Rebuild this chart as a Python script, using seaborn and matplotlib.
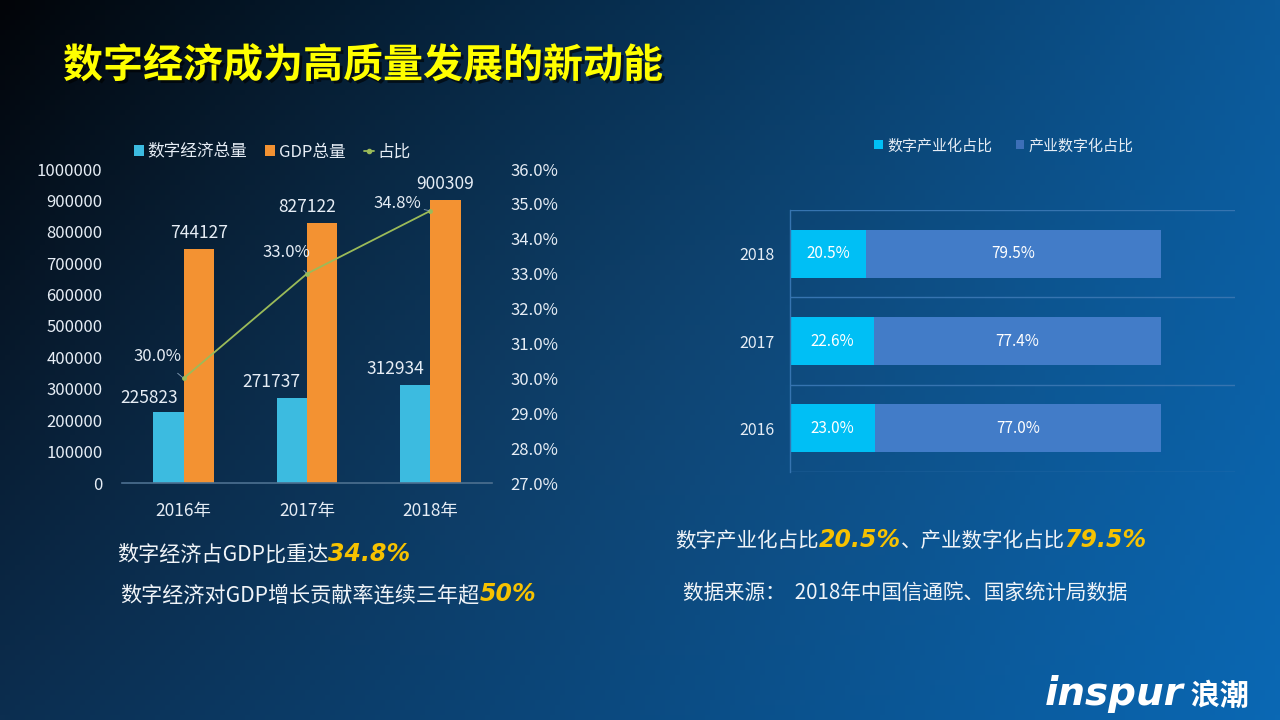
import numpy as np
import pandas as pd
import seaborn as sns
import matplotlib.pyplot as plt
import matplotlib.patheffects as pe
from matplotlib.lines import Line2D
from matplotlib.patches import Patch
from matplotlib.ticker import FuncFormatter, MultipleLocator

# ---- data ----
years = ['2016年', '2017年', '2018年']
digital_total = [225823, 271737, 312934]
gdp_total = [744127, 827122, 900309]
digital_share = [30.0, 33.0, 34.8]

ratio_years = ['2018', '2017', '2016']
industrialization = [20.5, 22.6, 23.0]
digitalization = [79.5, 77.4, 77.0]

sns.set_theme(style='white')
plt.rcParams['font.family'] = ['Noto Sans CJK SC', 'DejaVu Sans']
plt.rcParams['axes.unicode_minus'] = False

TXT = '#e6edf5'
CYAN = '#3cbbe0'
ORANGE = '#f39232'
GREEN = '#9bbb59'
CYAN2 = '#00bff5'
BLUE2 = '#427cc8'
GRID = '#3674b0'
YELLOW_NUM = '#f7c200'

fig = plt.figure(figsize=(12.8, 7.2), dpi=100)

# background gradient
bg = fig.add_axes([0, 0, 1, 1])
bg.set_axis_off()
tl = np.array([2, 4, 8]) / 255
tr = np.array([12, 90, 154]) / 255
bl = np.array([12, 46, 80]) / 255
br = np.array([10, 104, 180]) / 255
u = np.linspace(0, 1, 256)[None, :, None]
v = np.linspace(0, 1, 144)[:, None, None]
grad = (1 - v) * ((1 - u) * tl + u * tr) + v * ((1 - u) * bl + u * br)
grad = np.clip(grad + 0.02 * np.sin(np.pi * u) * np.sin(np.pi * v), 0, 1)
bg.imshow(grad, aspect='auto', extent=[0, 1, 0, 1], origin='upper')
bg.set_xlim(0, 1)
bg.set_ylim(0, 1)

# title
fig.text(63 / 1280, 1 - 66 / 720, '数字经济成为高质量发展的新动能', color='#ffff00',
         fontsize=28.8, fontweight='bold', va='center', ha='left',
         path_effects=[pe.SimplePatchShadow(offset=(2, -2), shadow_rgbFace='black', alpha=0.6), pe.Normal()])

# ---- left chart ----
ax1 = fig.add_axes([122 / 1280, 1 - 483 / 720, 370 / 1280, 314 / 720])
ax1.set_facecolor('none')
df = pd.DataFrame({
    '年份': years * 2,
    '系列': ['数字经济总量'] * 3 + ['GDP总量'] * 3,
    '值': digital_total + gdp_total,
})
sns.barplot(data=df, x='年份', y='值', hue='系列', palette=[CYAN, ORANGE], width=0.49,
            saturation=1, legend=False, linewidth=0, edgecolor='none', ax=ax1)
ax1.set_ylim(0, 1000000)
ax1.set_xlim(-0.5, 2.5)
ax1.yaxis.set_major_locator(MultipleLocator(100000))
ax1.yaxis.set_major_formatter(FuncFormatter(lambda v, p: f'{v:.0f}'))
ax1.set_xlabel('')
ax1.set_ylabel('')
for s in ['top', 'left', 'right']:
    ax1.spines[s].set_visible(False)
ax1.spines['bottom'].set_color('#4d7090')
ax1.spines['bottom'].set_linewidth(1.2)
ax1.tick_params(axis='y', length=0, pad=14, labelsize=12, labelcolor=TXT)
ax1.tick_params(axis='x', which='major', length=0, pad=14, labelsize=12.5, labelcolor=TXT)
ax1.set_xticks([-0.5, 0.5, 1.5, 2.5], minor=True)
ax1.tick_params(axis='x', which='minor', length=6, width=1.2, color='#4d7090', direction='out')
ax1.grid(False)

# bar value labels
cyan_nudge = [(-14, 10), (-15, 11), (-14, 11)]
orange_nudge = [(0, 12), (-11, 12), (0, 12)]
for cont, nudges in zip(ax1.containers, [cyan_nudge, orange_nudge]):
    for bar, (dx, dy) in zip(cont, nudges):
        xc = bar.get_x() + bar.get_width() / 2
        h = bar.get_height()
        ax1.annotate(f'{h:.0f}', (xc, h), xytext=(dx, dy), textcoords='offset points',
                     ha='center', va='center', color=TXT, fontsize=12.5)

ax2 = ax1.twinx()
ax2.set_facecolor('none')
sns.lineplot(x=years, y=digital_share, ax=ax2, color=GREEN, lw=1.3, marker='o',
             markersize=3.5, markeredgewidth=0, sort=False)
ax2.set_ylim(27, 36)
ax2.yaxis.set_major_locator(MultipleLocator(1))
ax2.yaxis.set_major_formatter(FuncFormatter(lambda v, p: f'{v:.1f}%'))
ax2.set_ylabel('')
for s in ax2.spines.values():
    s.set_visible(False)
ax2.tick_params(axis='y', length=0, pad=13, labelsize=12, labelcolor=TXT)
ax2.grid(False)
pct_nudge = [(-19, 16), (-15, 15), (-24, 5)]
for i, (val, (dx, dy)) in enumerate(zip(digital_share, pct_nudge)):
    ax2.annotate(f'{val:.1f}%', (i, val), xytext=(dx, dy), textcoords='offset points',
                 ha='center', va='center', color=TXT, fontsize=12,
                 arrowprops=dict(arrowstyle='-', color='#8aa4bc', lw=0.6, shrinkA=6, shrinkB=1))

left_handles = [
    Patch(facecolor=CYAN, edgecolor='none', label='数字经济总量'),
    Patch(facecolor=ORANGE, edgecolor='none', label='GDP总量'),
    Line2D([0], [0], color=GREEN, lw=1.3, marker='o', markersize=3, label='占比'),
]
fig.legend(handles=left_handles, loc='center', bbox_to_anchor=(272 / 1280, 1 - 152 / 720),
           ncol=3, frameon=False, fontsize=12, handlelength=0.6, handleheight=0.6,
           handletextpad=0.2, columnspacing=1.1, labelcolor=TXT)

# ---- right chart ----
ax3 = fig.add_axes([790 / 1280, 1 - 472 / 720, 445 / 1280, 262 / 720])
ax3.set_facecolor('none')
totals = [a + b for a, b in zip(industrialization, digitalization)]
sns.barplot(x=totals, y=ratio_years, orient='y', color=BLUE2, width=0.55, saturation=1,
            linewidth=0, edgecolor='none', ax=ax3)
sns.barplot(x=industrialization, y=ratio_years, orient='y', color=CYAN2, width=0.55, saturation=1,
            linewidth=0, edgecolor='none', ax=ax3)
ax3.set_xlim(0, 120)
ax3.set_ylim(2.5, -0.5)
ax3.set_xticks([])
ax3.set_xlabel('')
ax3.set_ylabel('')
ax3.grid(False)
for s in ['top', 'right', 'bottom']:
    ax3.spines[s].set_visible(False)
ax3.spines['left'].set_color(GRID)
ax3.spines['left'].set_linewidth(1)
for yb in [-0.5, 0.5, 1.5, 2.5]:
    ax3.axhline(yb, color=GRID, lw=1, zorder=0)
ax3.tick_params(axis='y', length=0, pad=11, labelsize=11.5, labelcolor=TXT)
for i, (a, b) in enumerate(zip(industrialization, digitalization)):
    ax3.text(a / 2, i, f'{a:.1f}%', ha='center', va='center', color='white', fontsize=11)
    ax3.text(a + b / 2, i, f'{b:.1f}%', ha='center', va='center', color='white', fontsize=11)

right_handles = [
    Patch(facecolor=CYAN2, edgecolor='none', label='数字产业化占比'),
    Patch(facecolor='#3d6fb8', edgecolor='none', label='产业数字化占比'),
]
fig.legend(handles=right_handles, loc='center', bbox_to_anchor=(1004 / 1280, 1 - 146 / 720),
           ncol=2, frameon=False, fontsize=10.8, handlelength=0.55, handleheight=0.55,
           handletextpad=0.3, columnspacing=1.6, labelcolor=TXT)

# ---- text runs ----
renderer = fig.canvas.get_renderer()


def text_runs(x_px, base_px, parts):
    x = x_px / 1280
    for s, kw in parts:
        t = fig.text(x, 1 - base_px / 720, s, va='baseline', ha='left', **kw)
        bb = t.get_window_extent(renderer)
        x = bb.x1 / fig.bbox.width


plain = dict(color='#f0f4f8', fontsize=15.2)
plain_r = dict(color='#f0f4f8', fontsize=14.8)
hot = dict(color=YELLOW_NUM, fontsize=17, fontweight='bold', fontstyle='italic', family='DejaVu Sans')

text_runs(117, 561, [('数字经济占GDP比重达', plain), ('34.8%', hot)])
text_runs(120, 601, [('数字经济对GDP增长贡献率连续三年超', plain), ('50%', hot)])
text_runs(675, 547, [('数字产业化占比', plain_r), ('20.5%', hot), ('、产业数字化占比', plain_r), ('79.5%', hot)])
text_runs(683, 599, [('数据来源：  2018年中国信通院、国家统计局数据', plain_r)])

# logo
text_runs(1045, 705, [('inspur', dict(color='white', fontsize=28, fontweight='heavy', fontstyle='italic',
                                        family='DejaVu Sans')),
                      (' 浪潮', dict(color='white', fontsize=21, fontweight='bold'))])

fig.savefig('out.png', dpi=100)
